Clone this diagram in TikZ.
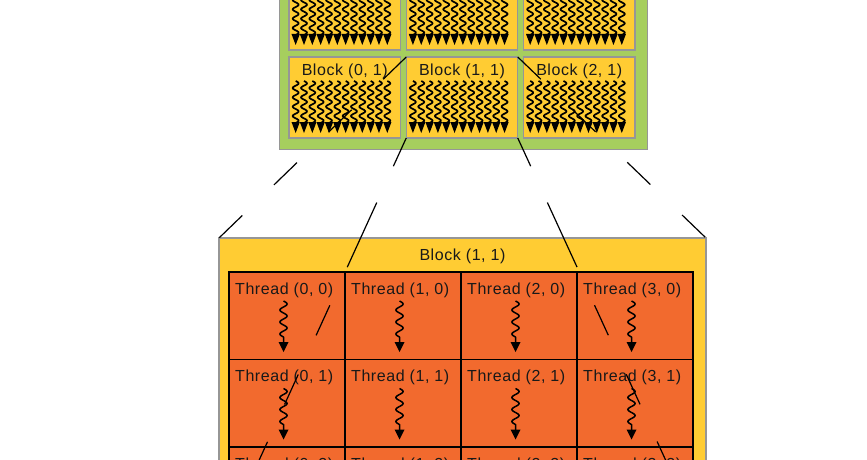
\documentclass[tikz,border=0pt]{standalone}
\usepackage{fontspec}
\setmainfont{Liberation Sans}[LetterSpace=3.5]
\usetikzlibrary{calc}
\definecolor{gridgreen}{RGB}{166,206,94}
\definecolor{blockyellow}{RGB}{255,204,51}
\definecolor{threadorange}{RGB}{242,106,46}
\definecolor{edgegray}{RGB}{150,150,150}
\begin{document}
\begin{tikzpicture}[x=1pt,y=-1pt,
  gridbox/.style={draw=edgegray, line width=1pt, fill=gridgreen, inner sep=0pt, outer sep=0pt, anchor=north west},
  blockbox/.style={draw=edgegray, line width=1.3pt, fill=blockyellow, inner sep=0pt, outer sep=0pt, anchor=north west},
  cellbox/.style={draw=black, line width=1.2pt, fill=threadorange, inner sep=0pt, outer sep=0pt, anchor=north west, minimum width=116pt, minimum height=87.5pt},
  framebox/.style={draw=black, line width=2pt, inner sep=0pt, outer sep=0pt, anchor=north west},
  lbl/.style={font=\fontsize{16}{18}\selectfont, inner sep=0pt, text=black!90},
  zoomdiag/.style={line width=1.2pt, dash pattern=on 32pt off 44pt},
  zoomsteep/.style={line width=1.2pt, dash pattern=on 31pt off 40pt on 71pt off 42pt on 33pt off 43pt on 33pt off 41pt on 33pt off 43pt on 33pt off 40pt},
  minisquig/.pic={
    \draw[line width=1.7pt, line join=round] plot[smooth, domain=0:42, samples=57] ({3*sin(\x*38.57)}, \x);
    \fill (-4.17,41) -- (4.17,41) -- (0,52) -- cycle;
  },
  thrsquig/.pic={
    \draw[line width=1.5pt, line join=round] plot[smooth, domain=0:36, samples=49] ({3.6*sin(\x*30)}, \x) -- (0,42);
    \fill (-5,41) -- (5,41) -- (0,51) -- cycle;
  }
]
\useasboundingbox (0,0) rectangle (867,460);

% grid of blocks
\node[gridbox, minimum width=368pt, minimum height=300pt] (grid) at (279,-151) {};
\foreach \i in {0,1,2} \foreach \j in {0,1} {
  \node[blockbox, minimum width=111.5pt, minimum height=81pt] (b\i\j) at ({289+117.25*\i},{-31+88*\j}) {};
  \foreach \k in {0,...,11} {
    \pic at ($(b\i\j.north west)+({2.5+8.33*(\k+0.5)},24)$) {minisquig};
  }
}
\foreach \i in {0,1,2} {
  \node[lbl, anchor=base] (lb\i1) at ($(b\i1.north)+(0,18)$) {Block (\i, 1)};
}

% zoomed block
\node[blockbox, minimum width=487pt, minimum height=310pt] (big) at (219,238) {};
\node[lbl, anchor=base] (biglbl) at ($(big.north)+(0,22.7)$) {Block (1, 1)};
\foreach \i in {0,...,3} \foreach \j in {0,1,2} {
  \node[cellbox] (c\i\j) at ({229+116*\i},{272+87.5*\j}) {};
  \node[lbl, anchor=base west] (t\i\j) at ($(c\i\j.north west)+(6,22)$) {Thread (\i, \j)};
  \pic at ($(c\i\j.north west)+(54.5,29)$) {thrsquig};
}
\node[framebox, minimum width=464pt, minimum height=262.5pt] (tgrid) at (229,272) {};

% zoom lines
\draw[zoomdiag] (b11.north west) -- (big.north west);
\draw[zoomdiag] (b11.north east) -- (big.north east);
\draw[zoomsteep] (b11.south west) -- (big.south west);
\draw[zoomsteep] (b11.south east) -- (big.south east);
\end{tikzpicture}
\end{document}
